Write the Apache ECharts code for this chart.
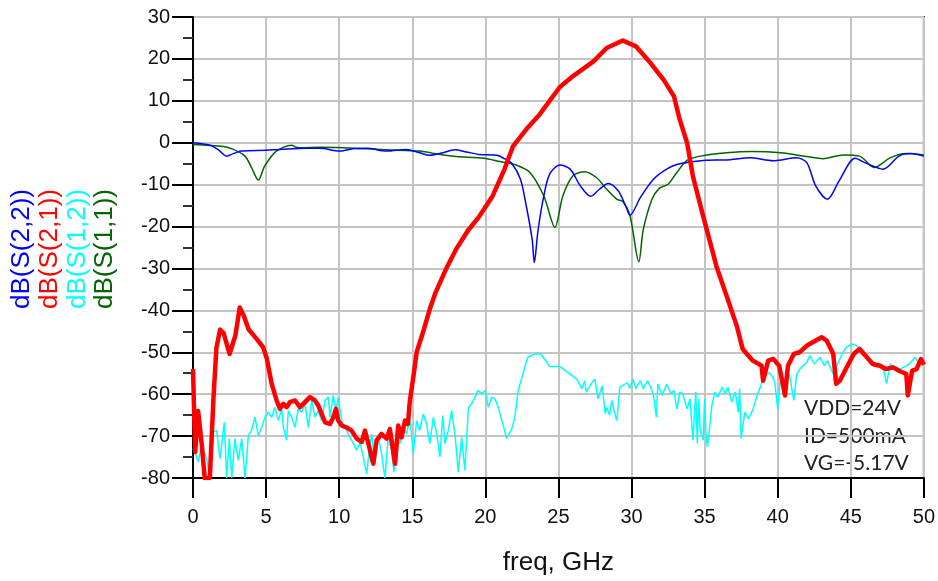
<!DOCTYPE html>
<html>
<head>
<meta charset="utf-8">
<script src="https://cdn.jsdelivr.net/npm/echarts@6/dist/echarts.min.js"></script>
<style>
  html, body { margin: 0; padding: 0; background: #fff; }
  #chart { width: 938px; height: 581px; }
</style>
</head>
<body>
<div id="chart"></div>
<script>
// 坐标轴刻度
const xTicks = [0, 5, 10, 15, 20, 25, 30, 35, 40, 45, 50]
const yMin = -80
const yMax = 30

// 图例文字（竖排）
const traceNames = ['dB(S(2,2))', 'dB(S(2,1))', 'dB(S(1,2))', 'dB(S(1,1))']
const traceColors = ['#0000ff', '#ff0000', '#00ffff', '#006400']

// 偏置条件
const biasNotes = ['VDD=24V', 'ID=500mA', 'VG=-5.17V']

// S(2,2)
const s22Freq = [0, 1.16, 1.7, 2.3, 2.76, 3.3, 5.0, 5.95, 7.77, 8.7, 10.05, 11, 11.9, 13.25, 14.6, 15.5, 16.2, 17.1, 17.9, 18.7,
  19.6, 20.8, 21.3, 21.8, 22.4, 22.8, 23.2, 23.35, 23.6, 24.0, 24.4, 25.1, 25.8, 26.5, 27.2, 27.8, 28.4, 29.1, 29.6, 29.9,
  30.6, 31.5, 32.4, 33.1, 34.0, 35.1, 36.5, 38.1, 39.7, 41.3, 42.0, 42.6, 43.4, 44.2, 45.3, 46.0, 47.2, 48.3, 49.1, 50]
const s22Db = [0, -0.6, -1.6, -3.2, -2.6, -2, -1.8, -1.6, -1.3, -1.3, -2, -1.4, -1.3, -2, -1.6, -2.4, -3, -2.4, -1.7, -2.2,
  -2.8, -3, -3.8, -4.9, -8.7, -15.1, -23, -28.6, -21, -12.7, -7.5, -5.3, -6.3, -10.3, -12.8, -11.1, -9.7, -11.5, -15.1, -17.3,
  -13.1, -8.7, -6.3, -5.2, -4.6, -4.2, -4.1, -3.6, -4.3, -3.6, -4.8, -10.3, -13.5, -9.1, -3.7, -4.8, -6.3, -3.2, -2.6, -3.2]

// S(1,1)
const s11Freq = [0, 2.07, 2.76, 3.56, 4.0, 4.47, 4.9, 5.7, 6.75, 7.0, 7.3, 8.7, 11.0, 13.25, 15.5, 16.9, 18.0, 19.9, 21.0, 22.1,
  23.05, 24.0, 24.76, 25.3, 26, 26.8, 27.6, 28.3, 29.0, 29.4, 29.9, 30.5, 30.8, 31.4, 31.9, 32.5, 33.1, 33.8, 34.7, 36.5,
  38.3, 40.2, 42.0, 43.1, 44.5, 45.6, 46.6, 47.7, 48.8, 50]
const s11Db = [-0.4, -0.9, -1.6, -3.2, -5.9, -8.9, -5.6, -2, -0.6, -1.0, -1.2, -1.1, -1.3, -1.7, -2, -2.8, -3.3, -3.7, -4.5, -5.3,
  -7.1, -12.7, -20.2, -12.7, -7.9, -6.9, -8.3, -11.1, -13.5, -14, -17.5, -28.4, -20.8, -13.5, -10.9, -9.9, -7.1, -4.2, -3.2, -2.4,
  -2.1, -2.4, -3.3, -3.8, -2.9, -3.2, -5.9, -3.6, -2.6, -2.9]

// S(2,1) 增益
const s21Freq = [0, 0.15, 0.35, 0.6, 0.8, 1.15, 1.4, 1.6, 1.85, 2.1, 2.5, 2.9, 3.2, 3.5, 3.8, 4.35, 4.8, 5.05, 5.38, 5.72,
  5.95, 6.18, 6.4, 6.63, 6.98, 7.32, 7.66, 8.0, 8.34, 8.57, 8.8, 9.03, 9.37, 9.6, 9.78, 9.94, 10.17, 10.5, 10.85, 11.2,
  11.55, 11.76, 12.0, 12.33, 12.56, 12.9, 13.25, 13.47, 13.82, 14.04, 14.27, 14.5, 14.7, 14.84, 15.07, 15.3, 15.8, 16.2, 16.6, 17.3,
  18.0, 18.8, 19.6, 20.5, 21.3, 21.9, 22.8, 23.7, 25.1, 26.0, 27.4, 28.3, 29.4, 30.3, 31.3, 32.2, 32.9, 33.3, 33.8, 34.2,
  34.9, 35.5, 35.8, 36.5, 37.2, 37.6, 38.3, 38.9, 39.0, 39.35, 39.7, 40.1, 40.5, 40.7, 41.1, 41.5, 42.0, 42.4, 43.0, 43.35,
  43.8, 44.0, 44.25, 44.6, 45.2, 45.6, 46.1, 46.5, 47.0, 47.4, 47.9, 48.3, 48.8, 48.9, 49.2, 49.5, 49.8, 50]
const s21Db = [-54, -73.8, -64, -72, -80, -80, -61, -49, -44.6, -45.5, -50.4, -46, -39.3, -41.5, -44.5, -46.8, -48.8, -51.5, -57.5, -61.5,
  -63.5, -62.3, -63.1, -61.9, -61.5, -63.1, -61.9, -60.7, -61.5, -62.7, -64.7, -66.7, -67.1, -65.5, -63.5, -66.3, -67.5, -67.9, -68.7, -70.6,
  -71.4, -68.7, -71.8, -76.6, -71, -69.5, -70.6, -68.3, -76.6, -67.5, -70.3, -66.3, -67.1, -61.5, -56, -50, -44.5, -39.7, -35.7, -30.2,
  -25.4, -21, -17.5, -12.7, -6.4, -0.8, 3.2, 6.7, 13.3, 15.9, 19.4, 22.6, 24.4, 23, 19, 15, 11.1, 5.5, 0, -8,
  -17.5, -25.4, -29.4, -36.5, -43.7, -49.2, -52, -53.2, -56.8, -52, -51.6, -53.2, -60.3, -53.2, -50.4, -50, -48.4, -47.6, -46.4, -47.2,
  -50.4, -57.5, -56.8, -54.4, -50.4, -49.2, -51.2, -52.8, -53.2, -54, -53.6, -54.4, -55.2, -60.3, -54.4, -54, -51.6, -53]

// S(1,2) 隔离度
const s12Freq = [0, 0.13, 0.36, 0.59, 0.93, 1.16, 1.39, 1.62, 1.85, 2.14, 2.3, 2.48, 2.65, 2.87, 3.1, 3.33, 3.56, 3.79, 4.0, 4.24,
  4.47, 4.7, 4.93, 5.15, 5.38, 5.61, 5.84, 6.06, 6.18, 6.4, 6.52, 6.75, 6.98, 7.2, 7.43, 7.66, 7.89, 8.12, 8.34, 8.57,
  8.8, 9.03, 9.26, 9.37, 9.6, 9.78, 9.94, 10.17, 10.4, 10.62, 10.97, 11.2, 11.42, 11.65, 11.88, 12.06, 12.22, 12.45, 12.68, 12.9,
  13.13, 13.36, 13.59, 13.75, 13.93, 14.16, 14.39, 14.6, 14.84, 15.07, 15.3, 15.5, 15.75, 15.98, 16.2, 16.44, 16.67, 16.9, 17.08, 17.24,
  17.46, 17.69, 17.92, 18.15, 18.38, 18.6, 18.84, 19.06, 19.3, 19.5, 19.75, 20.0, 20.2, 20.43, 20.66, 20.88, 21.2, 21.45, 21.8, 22.0,
  22.25, 22.6, 22.9, 23.4, 23.8, 24.4, 25.1, 25.8, 26.25, 26.6, 26.8, 26.9, 27.3, 27.5, 27.7, 28.0, 28.2, 28.3, 28.5, 28.65,
  28.8, 29.0, 29.2, 29.4, 29.7, 29.9, 30.1, 30.3, 30.6, 30.8, 31.1, 31.4, 31.5, 31.7, 31.8, 32.1, 32.4, 32.7, 32.9, 33.1,
  33.3, 33.5, 33.8, 34.0, 34.2, 34.4, 34.5, 34.6, 34.7, 34.9, 35.0, 35.1, 35.2, 35.5, 35.7, 35.9, 36.2, 36.4, 36.6, 36.85,
  37.1, 37.3, 37.4, 37.5, 37.75, 38.0, 38.3, 38.55, 38.9, 39.1, 39.35, 39.6, 39.8, 40.0, 40.2, 40.5, 40.8, 41.1, 41.3, 41.6,
  42.0, 42.2, 42.5, 42.9, 43.2, 43.4, 43.8, 44.1, 44.4, 44.7, 45.1, 45.4, 45.9, 46.3, 46.8, 47.2, 47.45, 47.7, 48.1, 48.6,
  49.0, 49.4, 49.7, 50]
const s12Db = [-73, -73.8, -76.2, -72.2, -75.4, -80, -69, -68.7, -75.4, -66.7, -80, -70.6, -80, -70.6, -75.8, -70.6, -80, -69.9, -68.7, -65.5,
  -69.9, -67.9, -65.5, -64.3, -65.5, -63.1, -66.3, -63.5, -67.9, -71, -63.9, -65.5, -67.9, -63.5, -64.3, -62.3, -67.9, -61.5, -65.5, -63.9,
  -66.3, -61.5, -60.7, -65.5, -60.3, -63.9, -60.7, -66.3, -67.9, -69.5, -71.8, -73.4, -71.4, -75, -79, -73.4, -69.5, -76.6, -70.3, -74.2,
  -80, -70.3, -73.4, -78.6, -69.5, -71.8, -67.9, -69.5, -65.5, -74.2, -66.3, -68.7, -64.7, -67.1, -71.8, -65.5, -69.5, -75, -65.1, -71.8,
  -68.7, -63.9, -69.5, -78.6, -70.3, -78.2, -63.1, -62.3, -60.7, -59.1, -59.9, -59.1, -63.1, -60.7, -61.1, -63.1, -67.1, -70.6, -68.3, -65.9,
  -59.1, -54.8, -51.2, -50.4, -50.4, -53.4, -53.4, -55.2, -56.4, -58.7, -56.8, -59.5, -57.2, -56.4, -61.1, -58, -64.7, -63.1, -65, -61.5,
  -63.9, -66.3, -58.3, -57.9, -57.3, -58.6, -56.4, -58.7, -56.8, -58.7, -56.8, -59.1, -60.3, -65.5, -57.6, -60.3, -57.6, -59.9, -59.1, -63.5,
  -59.5, -59.9, -63.5, -61.1, -71, -59.5, -71.8, -61.1, -68.7, -71, -61.1, -70.2, -72.6, -62.7, -59.5, -60.7, -58.3, -59.9, -58.3, -61.9,
  -59.5, -64.3, -58.7, -70.6, -64.3, -65.9, -63.7, -60.7, -57.5, -56, -54.8, -55.6, -57.1, -63.5, -55.6, -56.8, -55.2, -61.5, -55.2, -53.6,
  -52.4, -50.8, -52.8, -51.2, -53.2, -52, -55.2, -52.8, -50.4, -48.8, -48, -48.4, -50, -52, -52.8, -53.6, -57.5, -52.8, -54.4, -53.6,
  -52.8, -51.2, -52.8, -52]

const zip = (fs, ds) => fs.map((f, i) => [f, ds[i]])

const chart = echarts.init(document.getElementById('chart'))

const baseFont = 'Liberation Sans, Arial, sans-serif'

const legendTexts = traceNames.map((name, i) => ({
  type: 'text',
  x: 22 + i * 27.7,
  y: 249,
  rotation: Math.PI / 2,
  style: {
    text: name,
    fill: traceColors[i],
    font: '26px ' + baseFont,
    align: 'center',
    verticalAlign: 'middle'
  }
}))

const noteTexts = biasNotes.map((t, i) => ({
  type: 'text',
  left: 804,
  top: 398 + i * 27.5,
  style: {
    text: t,
    fill: '#222',
    font: '21px Lato, sans-serif'
  }
}))

const option = {
  animation: false,
  backgroundColor: '#fff',
  grid: {
    left: 193,
    top: 17,
    right: 14,
    bottom: 102,
    show: true,
    borderColor: '#333',
    borderWidth: 2
  },
  xAxis: {
    type: 'value',
    min: 0,
    max: 50,
    interval: 5,
    name: 'freq, GHz',
    nameLocation: 'middle',
    nameGap: 72,
    nameTextStyle: { fontSize: 26, color: '#111', fontFamily: baseFont },
    axisLine: { onZero: false, lineStyle: { color: '#000', width: 2 } },
    axisTick: { length: 20, lineStyle: { color: '#000', width: 2 } },
    axisLabel: {
      margin: 29,
      fontSize: 20,
      color: '#111',
      fontFamily: baseFont,
      customValues: xTicks
    },
    splitLine: { lineStyle: { color: '#c4c4c4', width: 2 } }
  },
  yAxis: {
    type: 'value',
    min: yMin,
    max: yMax,
    interval: 10,
    axisLine: { lineStyle: { color: '#000', width: 2 } },
    axisTick: { length: 21, lineStyle: { color: '#000', width: 2 } },
    minorTick: { show: true, splitNumber: 2, length: 10, lineStyle: { color: '#333', width: 2 } },
    axisLabel: { margin: 23, fontSize: 20, color: '#111', fontFamily: baseFont },
    splitLine: { lineStyle: { color: '#c4c4c4', width: 2 } }
  },
  graphic: legendTexts.concat(noteTexts),
  series: [
    {
      name: traceNames[2],
      type: 'line',
      data: zip(s12Freq, s12Db),
      showSymbol: false,
      lineStyle: { color: traceColors[2], width: 1.5 }
    },
    {
      name: traceNames[3],
      type: 'line',
      data: zip(s11Freq, s11Db),
      showSymbol: false,
      smooth: 0.3,
      lineStyle: { color: traceColors[3], width: 1.5 }
    },
    {
      name: traceNames[0],
      type: 'line',
      data: zip(s22Freq, s22Db),
      showSymbol: false,
      smooth: 0.3,
      lineStyle: { color: traceColors[0], width: 1.5 }
    },
    {
      name: traceNames[1],
      type: 'line',
      data: zip(s21Freq, s21Db),
      showSymbol: false,
      lineStyle: { color: traceColors[1], width: 4.5, join: 'round' }
    }
  ]
}

chart.setOption(option)
</script>
</body>
</html>
